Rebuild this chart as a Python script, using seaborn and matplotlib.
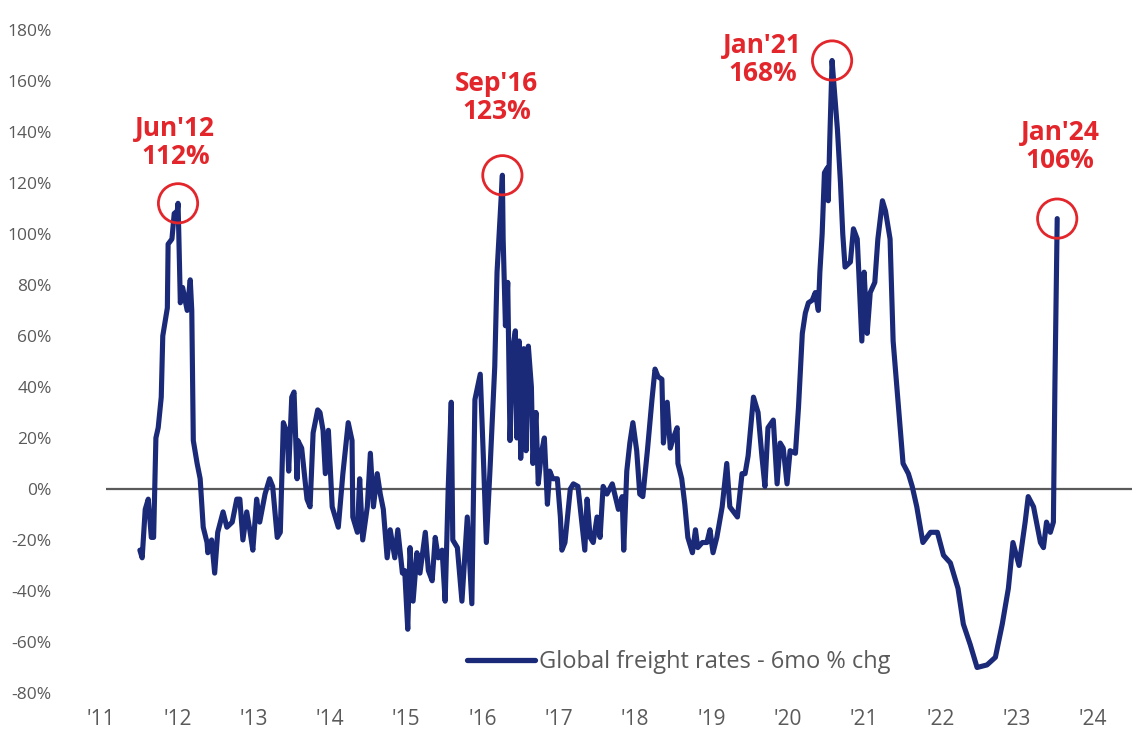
import matplotlib
matplotlib.use("Agg")
import matplotlib.pyplot as plt
from matplotlib import font_manager
import numpy as np
import pandas as pd
import seaborn as sns

# Global freight rates, 6-month % change (decimal year, % change)
years = [
    2011.51, 2011.54, 2011.58, 2011.62, 2011.66, 2011.69, 2011.72, 2011.75, 2011.79, 2011.81,
    2011.87, 2011.88, 2011.93, 2011.96, 2012.00, 2012.01, 2012.02, 2012.04, 2012.07, 2012.13,
    2012.17, 2012.19, 2012.21, 2012.26, 2012.30, 2012.34, 2012.39, 2012.40, 2012.45, 2012.49,
    2012.53, 2012.60, 2012.65, 2012.72, 2012.78, 2012.82, 2012.86, 2012.91, 2012.95, 2012.99,
    2013.04, 2013.08, 2013.15, 2013.21, 2013.25, 2013.31, 2013.35, 2013.39, 2013.44, 2013.46,
    2013.50, 2013.53, 2013.57, 2013.58, 2013.63, 2013.70, 2013.74, 2013.78, 2013.84, 2013.87,
    2013.91, 2013.94, 2013.98, 2014.03, 2014.07, 2014.11, 2014.17, 2014.24, 2014.29, 2014.30,
    2014.36, 2014.39, 2014.43, 2014.49, 2014.53, 2014.57, 2014.62, 2014.66, 2014.70, 2014.75,
    2014.79, 2014.85, 2014.89, 2014.95, 2014.98, 2015.02, 2015.05, 2015.09, 2015.14, 2015.18,
    2015.25, 2015.29, 2015.34, 2015.38, 2015.42, 2015.47, 2015.51, 2015.55, 2015.59, 2015.61,
    2015.67, 2015.73, 2015.80, 2015.86, 2015.90, 2015.97, 2016.01, 2016.05, 2016.10, 2016.16,
    2016.19, 2016.26, 2016.27, 2016.30, 2016.33, 2016.36, 2016.40, 2016.43, 2016.45, 2016.48,
    2016.50, 2016.54, 2016.57, 2016.60, 2016.64, 2016.66, 2016.70, 2016.73, 2016.77, 2016.81,
    2016.85, 2016.88, 2016.92, 2016.98, 2017.02, 2017.04, 2017.08, 2017.15, 2017.19, 2017.25,
    2017.30, 2017.34, 2017.37, 2017.41, 2017.45, 2017.50, 2017.54, 2017.58, 2017.63, 2017.70,
    2017.74, 2017.78, 2017.83, 2017.85, 2017.89, 2017.93, 2017.97, 2018.02, 2018.06, 2018.10,
    2018.16, 2018.22, 2018.26, 2018.30, 2018.35, 2018.37, 2018.42, 2018.46, 2018.50, 2018.55,
    2018.56, 2018.61, 2018.65, 2018.69, 2018.75, 2018.79, 2018.82, 2018.88, 2018.94, 2018.98,
    2019.02, 2019.07, 2019.14, 2019.20, 2019.24, 2019.34, 2019.40, 2019.44, 2019.48, 2019.55,
    2019.61, 2019.66, 2019.70, 2019.74, 2019.81, 2019.86, 2019.90, 2019.94, 2019.99, 2020.03,
    2020.10, 2020.14, 2020.19, 2020.23, 2020.27, 2020.32, 2020.36, 2020.40, 2020.42, 2020.45,
    2020.48, 2020.52, 2020.53, 2020.55, 2020.58, 2020.59, 2020.65, 2020.69, 2020.72, 2020.75,
    2020.82, 2020.86, 2020.91, 2020.93, 2020.97, 2021.00, 2021.04, 2021.08, 2021.14, 2021.18,
    2021.24, 2021.28, 2021.34, 2021.38, 2021.45, 2021.51, 2021.58, 2021.63, 2021.69, 2021.77,
    2021.87, 2021.96, 2022.04, 2022.13, 2022.23, 2022.30, 2022.39, 2022.48, 2022.61, 2022.72,
    2022.81, 2022.89, 2022.95, 2023.03, 2023.11, 2023.15, 2023.22, 2023.31, 2023.35, 2023.39,
    2023.44, 2023.48, 2023.50, 2023.53,
]
pct_change = [
    -24, -27, -8, -4, -19, -19, 20, 24, 36, 60,
    71, 96, 98, 108, 109, 112, 100, 73, 79, 70,
    82, 70, 19, 10, 4, -15, -21, -25, -20, -33,
    -17, -9, -15, -13, -4, -4, -20, -9, -16, -24,
    -4, -13, -2, 4, 1, -19, -17, 26, 22, 7,
    36, 38, 4, 19, 16, -4, -7, 22, 31, 30,
    23, 6, 23, -7, -11, -15, 6, 26, 19, -11,
    -17, 4, -20, -7, 14, -7, 6, -2, -8, -27,
    -16, -27, -16, -33, -32, -55, -23, -44, -25, -33,
    -17, -32, -36, -19, -27, -24, -44, 0, 34, -20,
    -23, -44, -11, -45, 35, 45, 13, -21, 9, 48,
    85, 123, 98, 64, 81, 19, 56, 62, 20, 58,
    12, 55, 15, 56, 40, 10, 30, 2, 14, 20,
    -6, 7, 4, 4, -11, -24, -21, 0, 2, 1,
    -13, -24, -4, -19, -21, -11, -19, 1, -2, 2,
    -3, -8, -3, -24, 7, 18, 26, 15, -2, -3,
    15, 35, 47, 44, 43, 18, 34, 16, 20, 24,
    10, 4, -6, -19, -25, -16, -23, -21, -21, -16,
    -25, -19, -7, 10, -7, -11, 6, 6, 13, 36,
    30, 13, 1, 24, 27, 2, 18, 16, 2, 15,
    14, 32, 61, 69, 73, 74, 77, 70, 85, 100,
    124, 126, 113, 137, 168, 164, 141, 120, 100, 87,
    89, 102, 98, 85, 58, 85, 61, 77, 81, 98,
    113, 109, 98, 58, 32, 10, 6, 1, -7, -21,
    -17, -17, -26, -29, -39, -53, -61, -70, -69, -66,
    -53, -39, -21, -30, -13, -3, -7, -21, -23, -13,
    -17, -13, 41, 106,
]

# Highlighted peaks
peak_labels = ["Jun'12", "Sep'16", "Jan'21", "Jan'24"]
peak_values = [112, 123, 168, 106]
# label offsets (points) relative to each peak
peak_offsets = [(-2, 44), (-4, 56), (-50, 1), (2, 52)]

y_ticks = list(range(-80, 181, 20))
x_ticks = list(range(2011, 2025))
x_ticklabels = ["'" + str(y)[2:] for y in x_ticks]
series_name = "Global freight rates - 6mo % chg"

NAVY = "#1a2a78"
RED = "#e2262b"
GREY = "#5a5a5a"

sns.set_theme(style="white")
available = {f.name for f in font_manager.fontManager.ttflist}
narrow = "Liberation Sans Narrow" if "Liberation Sans Narrow" in available else "Open Sans"
plt.rcParams["font.family"] = [narrow, "DejaVu Sans"]

fig = plt.figure(figsize=(11.32, 7.46), dpi=100)
ax = fig.add_axes([0.0548, 0.055, 0.9452, 0.9316])

df = pd.DataFrame({"year": years, "pct": pct_change, "series": series_name})

ax.hlines(0, 2011.07, 2024.51, color=GREY, linewidth=1.6, zorder=1)
sns.lineplot(data=df, x="year", y="pct", hue="series", palette=[NAVY],
             sort=False, estimator=None, linewidth=3.7, ax=ax, zorder=3)

# circles and labels on the highlighted peaks
for lab, val, off in zip(peak_labels, peak_values, peak_offsets):
    i = pct_change.index(val)
    x = years[i]
    ax.scatter([x], [val], s=800, facecolors="none", edgecolors=RED,
               linewidths=2.0, zorder=4)
    ax.annotate(f"{lab}\n{val}%", xy=(x, val), xytext=off, textcoords="offset points",
                ha="center", va="center", color=RED, fontsize=19, fontweight="bold",
                linespacing=1.05, zorder=5)

ax.set_xlim(2010.49, 2024.51)
ax.set_ylim(-84.7, 187.8)
ax.set_yticks(y_ticks)
ax.set_yticklabels([f"{v}%" for v in y_ticks])
ax.set_xticks(x_ticks)
ax.set_xticklabels(x_ticklabels)
ax.tick_params(axis="y", length=0, pad=7.5, labelsize=12.5, labelcolor=GREY)
ax.tick_params(axis="x", length=0, pad=3, labelsize=15, labelcolor=GREY)
ax.set_xlabel("")
ax.set_ylabel("")
for s in ax.spines.values():
    s.set_visible(False)
ax.grid(False)

leg = ax.legend(loc="center", bbox_to_anchor=(0.576, 0.062), frameon=False,
                handlelength=2.9, handletextpad=0.15, fontsize=17)
for t in leg.get_texts():
    t.set_color(GREY)
for h in leg.get_lines():
    h.set_linewidth(3.8)

fig.savefig("out.png", dpi=100)
